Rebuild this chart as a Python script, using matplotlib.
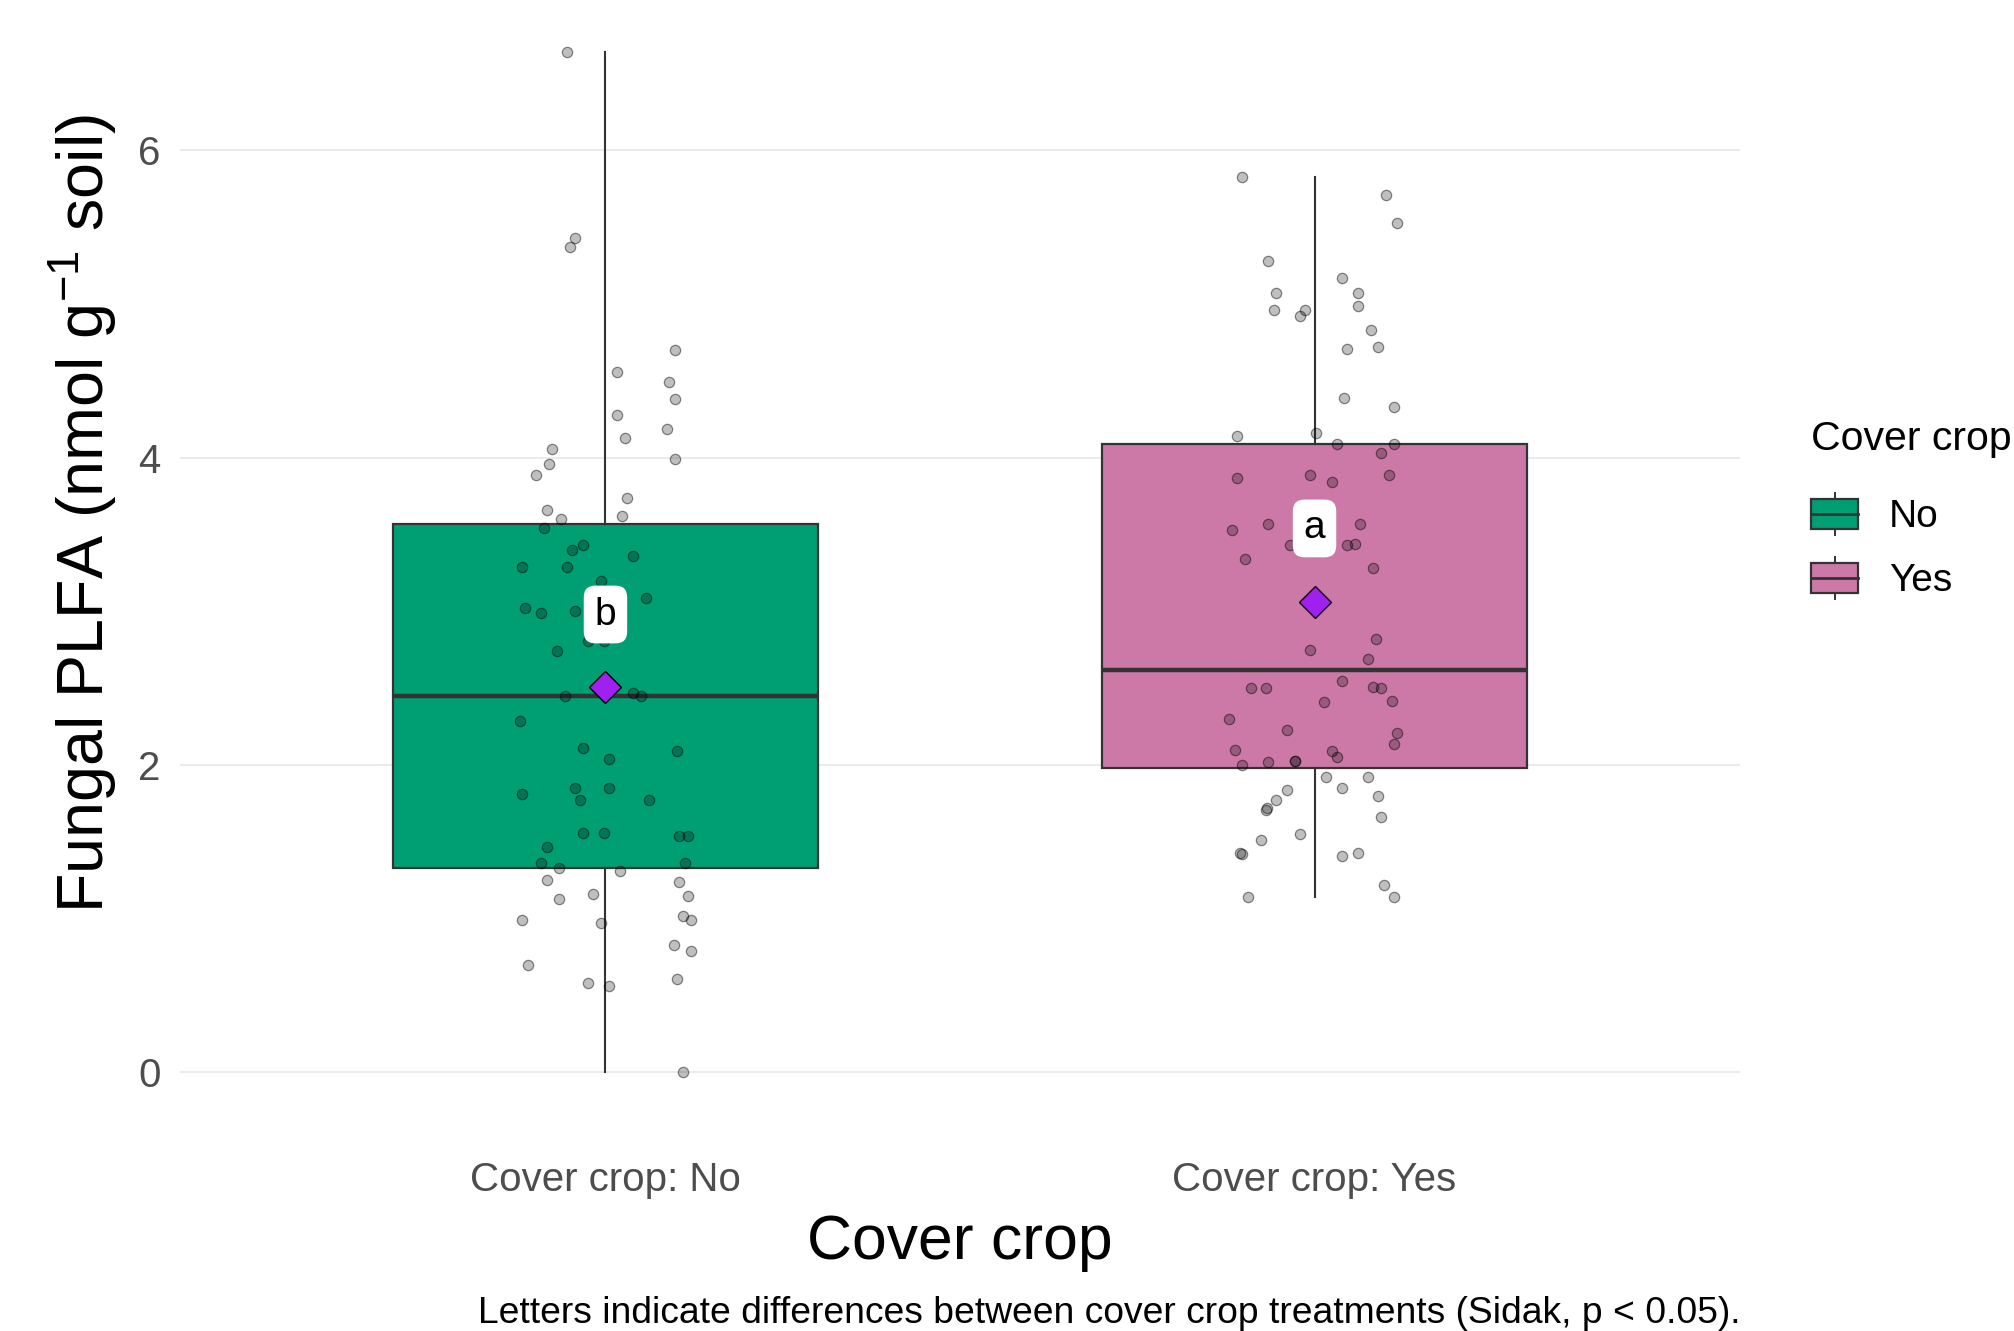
import matplotlib
matplotlib.use("Agg")
import matplotlib.pyplot as plt
from matplotlib.legend_handler import HandlerBase
from matplotlib.patches import Rectangle, Patch
from matplotlib.lines import Line2D

plt.rcParams['font.family'] = ['Liberation Sans', 'DejaVu Sans']
plt.rcParams['mathtext.fontset'] = 'custom'
plt.rcParams['mathtext.rm'] = 'Liberation Sans'
plt.rcParams['mathtext.it'] = 'Liberation Sans:italic'

# groups and summary stats
groups = ['No', 'Yes']
tick_labels = ['Cover crop: No', 'Cover crop: Yes']
box_colors = ['#009E73', '#CC79A7']
q1 = [1.33, 1.98]
median = [2.45, 2.62]
q3 = [3.57, 4.09]
whisker_lo = [0.00, 1.14]
whisker_hi = [6.64, 5.83]
means = [2.51, 3.06]
letters = ['b', 'a']
letter_y = [2.98, 3.54]

# individual samples (jitter offset, value)
no_dx = [-0.054, -0.043, -0.050, 0.098, 0.016, 0.090, 0.098, 0.016, 0.027, 0.087,
         0.098, -0.076, -0.079, -0.098, 0.031, -0.083, -0.062, 0.024,
         -0.087, -0.047, -0.031, 0.039, -0.117, -0.054, -0.006, 0.057, -0.113, -0.091,
         -0.043, -0.025, -0.002, -0.069, -0.057, 0.039, 0.050, -0.120, -0.031, 0.005,
         0.101, -0.117, -0.043, -0.036, 0.005, 0.061, -0.031, -0.002, 0.104, 0.117,
         -0.083, -0.091, 0.112, -0.065, 0.020, -0.083, 0.104, 0.116, -0.065, -0.017,
         -0.117, -0.006, 0.109, 0.120, 0.097, 0.120, -0.109, 0.101, -0.024, 0.005, 0.109]
no_y = [6.64, 5.43, 5.37, 4.70, 4.56, 4.49, 4.38, 4.28, 4.13, 4.19,
        3.99, 4.06, 3.96, 3.89, 3.74, 3.66, 3.60, 3.62,
        3.54, 3.40, 3.43, 3.36, 3.29, 3.29, 3.20, 3.09, 3.02, 2.99,
        3.00, 2.81, 2.81, 2.74, 2.45, 2.47, 2.45, 2.29, 2.11, 2.04,
        2.09, 1.81, 1.85, 1.77, 1.85, 1.77, 1.56, 1.56, 1.54, 1.54,
        1.47, 1.36, 1.36, 1.33, 1.31, 1.25, 1.24, 1.15, 1.13, 1.16,
        0.99, 0.97, 1.02, 0.99, 0.83, 0.79, 0.70, 0.61, 0.58, 0.56, 0.00]

yes_dx = [-0.102, 0.101, 0.116, -0.065, 0.039, -0.054, 0.061, 0.061, -0.057, -0.013,
          -0.021, 0.079, 0.090, 0.046, 0.042, 0.112, -0.109, 0.002, 0.031, 0.112,
          0.094, -0.109, -0.006, 0.024, 0.105, -0.117, -0.065, 0.064, -0.035, 0.046,
          0.057, -0.098, 0.083,
          0.086, -0.006, 0.076, 0.039, -0.090, -0.068, 0.083, 0.094, 0.013, 0.109,
          -0.120, -0.039, 0.116, 0.112, -0.112, 0.024, 0.031, -0.102, -0.065, -0.028,
          -0.027, 0.016, 0.076, 0.039, -0.039, 0.090, -0.054, -0.068, -0.067, 0.094,
          -0.021, -0.075, -0.105, -0.103, 0.039, 0.061, 0.098, -0.094, 0.112]
yes_y = [5.83, 5.71, 5.53, 5.28, 5.17, 5.07, 5.07, 4.99, 4.96, 4.96,
         4.92, 4.83, 4.72, 4.71, 4.39, 4.33, 4.14, 4.16, 4.09, 4.09,
         4.03, 3.87, 3.89, 3.84, 3.89, 3.53, 3.57, 3.57, 3.43, 3.43,
         3.44, 3.34, 3.28,
         2.82, 2.75, 2.69, 2.55, 2.50, 2.50, 2.51, 2.50, 2.41, 2.42,
         2.30, 2.23, 2.21, 2.14, 2.10, 2.09, 2.05, 2.00, 2.02, 2.03,
         2.03, 1.92, 1.92, 1.85, 1.84, 1.80, 1.77, 1.71, 1.72, 1.66,
         1.55, 1.51, 1.43, 1.42, 1.41, 1.43, 1.22, 1.14, 1.14]

edge = '#333333'


class BoxKey(HandlerBase):
    # small boxplot glyph for the legend
    def create_artists(self, legend, orig_handle, xdescent, ydescent,
                       width, height, fontsize, trans):
        x0, y0 = -xdescent, -ydescent
        cx = x0 + width / 2
        lo, hi = y0 + 0.15 * height, y0 + 0.85 * height
        whisk = Line2D([cx, cx], [y0, y0 + height], color=edge, lw=1.4, transform=trans)
        box = Rectangle((x0, lo), width, hi - lo, facecolor=orig_handle.get_facecolor(),
                        edgecolor=edge, lw=1.6, transform=trans)
        mid = Line2D([x0, x0 + width], [(lo + hi) / 2] * 2, color=edge, lw=2.0, transform=trans)
        return [whisk, box, mid]


fig = plt.figure(figsize=(20.14, 13.31), dpi=100)
ax = fig.add_axes([180 / 2014, 1 - 1123.5 / 1331, 1560 / 2014, 1122.5 / 1331])

positions = [1, 2]
stats = []
for i in range(2):
    stats.append(dict(med=median[i], q1=q1[i], q3=q3[i], whislo=whisker_lo[i],
                      whishi=whisker_hi[i], label=tick_labels[i]))

bp = ax.bxp(stats, positions=positions, widths=0.6, patch_artist=True,
            showfliers=False, showcaps=False,
            boxprops=dict(edgecolor=edge, linewidth=1.6),
            medianprops=dict(color=edge, linewidth=3.2),
            whiskerprops=dict(color=edge, linewidth=1.5))
for patch, c in zip(bp['boxes'], box_colors):
    patch.set_facecolor(c)

ax.scatter([positions[0] + d for d in no_dx], no_y, s=55, facecolor=(0, 0, 0, 0.25),
           edgecolor=(0, 0, 0, 0.45), linewidth=0.9, zorder=3)
ax.scatter([positions[1] + d for d in yes_dx], yes_y, s=55, facecolor=(0, 0, 0, 0.25),
           edgecolor=(0, 0, 0, 0.45), linewidth=0.9, zorder=3)

ax.plot(positions, means, linestyle='none', marker='D', ms=16, markerfacecolor='#A020F0',
        markeredgecolor='black', markeredgewidth=1.0, zorder=4)

for p, lab, ly in zip(positions, letters, letter_y):
    ax.text(p, ly, lab, ha='center', va='center', fontsize=28, zorder=5,
            bbox=dict(boxstyle='round,pad=0.28,rounding_size=0.3', facecolor='white',
                      edgecolor='none'))

ax.set_xlim(0.4, 2.6)
ax.set_ylim(-0.332, 6.972)
ax.set_yticks([0, 2, 4, 6])
ax.set_xticks(positions, tick_labels)
ax.tick_params(axis='both', length=0, labelsize=29, labelcolor='#4D4D4D')
ax.tick_params(axis='x', pad=27)
ax.tick_params(axis='y', pad=14)
ax.yaxis.grid(True, color='#EBEBEB', linewidth=1.4)
ax.xaxis.grid(False)
ax.set_axisbelow(True)
for s in ax.spines.values():
    s.set_visible(False)

ax.set_xlabel('Cover crop', fontsize=45)
ax.xaxis.set_label_coords(0.5, -0.080)
fig.text(47 / 2014, 1 - 514 / 1331, r'Fungal PLFA (nmol g$^{-1}$ soil)', rotation=90,
         ha='left', va='center', fontsize=46.5)

fig.text(1740 / 2014, 1 - 1323 / 1331,
         'Letters indicate differences between cover crop treatments (Sidak, p < 0.05).',
         ha='right', va='baseline', fontsize=26.8)

handles = [Patch(facecolor=c, edgecolor=edge) for c in box_colors]
leg = ax.legend(handles, groups, title='Cover crop', handler_map={Patch: BoxKey()},
                loc='upper left', bbox_to_anchor=(1811 / 2014, 1 - 420 / 1331),
                bbox_transform=fig.transFigure, frameon=False, fontsize=28,
                title_fontsize=29.5, handlelength=1.21, handleheight=1.3,
                handletextpad=0.8, labelspacing=0.55, borderpad=0, borderaxespad=0,
                alignment='left')
leg._legend_box.sep = 25

fig.savefig('out.png', dpi=100)
